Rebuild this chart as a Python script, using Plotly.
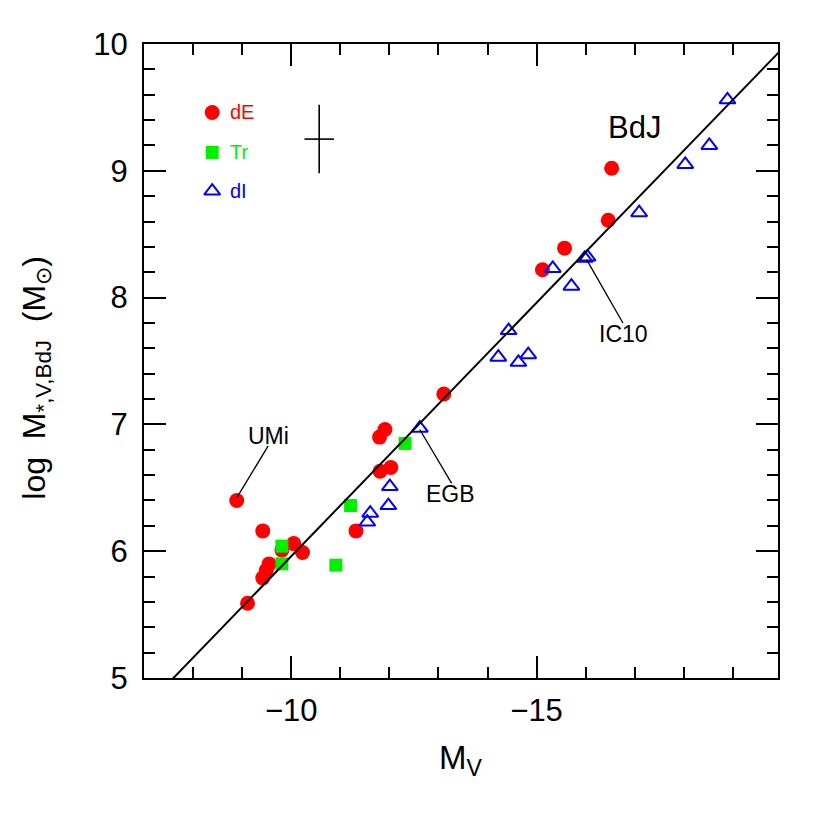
import plotly.graph_objects as go

# ---------------- data ----------------
dE_mv = [-8.89, -9.42, -10.05, -10.23, -9.81, -9.55, -9.49, -9.42, -9.11, -11.32,
         -11.81, -12.03, -11.80, -11.91, -13.11, -15.12, -15.57, -16.46, -16.53]
dE_logm = [6.40, 6.16, 6.06, 5.99, 6.01, 5.90, 5.85, 5.79, 5.59, 6.16,
           6.63, 6.66, 6.90, 6.96, 7.24, 8.22, 8.39, 8.61, 9.02]

tr_mv = [-9.81, -9.81, -10.91, -11.21, -12.32]
tr_logm = [6.04, 5.90, 5.89, 6.36, 6.85]

dI_mv = [-11.55, -11.61, -11.98, -12.01, -12.62, -14.22, -14.43, -14.63, -14.83,
         -15.33, -15.71, -15.98, -16.04, -17.09, -18.03, -18.52, -18.89]
dI_logm = [6.23, 6.30, 6.36, 6.51, 6.97, 7.53, 7.74, 7.49, 7.55,
           8.23, 8.09, 8.31, 8.32, 8.67, 9.05, 9.20, 9.56]

# fit: log M = slope * M_V + intercept
fit_slope = -0.4
fit_intercept = 1.96
fit_mv = [-7.0, -20.0]
fit_logm = [fit_slope * m + fit_intercept for m in fit_mv]

# typical error bar
err_mv, err_logm = [-10.57], [9.25]
err_dmv, err_dlogm = [0.30], [0.27]

# labelled galaxies: (label, point, text position)
labels = ["UMi", "EGB", "IC10"]
label_pt_mv = [-8.89, -12.62, -16.02]
label_pt_logm = [6.42, 6.96, 8.30]
label_end_mv = [-9.53, -13.27, -16.76]
label_end_logm = [6.83, 6.535, 7.80]
label_txt_mv = [-9.53, -13.25, -16.77]
label_txt_logm = [6.91, 6.45, 7.71]

legend_names = ["dE", "Tr", "dI"]

RED, GREEN, BLUE = "#ff0000", "#00f000", "#0000ff"
FONT = "Liberation Sans"

fig = go.Figure()

fig.add_trace(go.Scatter(x=dE_mv, y=dE_logm, mode="markers",
                         marker=dict(symbol="circle", size=15, color=RED, line=dict(width=0)),
                         showlegend=False))
fig.add_trace(go.Scatter(x=tr_mv, y=tr_logm, mode="markers",
                         marker=dict(symbol="square", size=13, color=GREEN, line=dict(width=0)),
                         showlegend=False))
fig.add_trace(go.Scatter(x=dI_mv, y=dI_logm, mode="markers",
                         marker=dict(symbol="triangle-up-open", size=14, color=BLUE,
                                     line=dict(width=2, color=BLUE)),
                         showlegend=False))
fig.add_trace(go.Scatter(x=fit_mv, y=fit_logm, mode="lines",
                         line=dict(color="black", width=2), showlegend=False))
fig.add_trace(go.Scatter(x=err_mv, y=err_logm, mode="markers",
                         marker=dict(size=0.1, color="black"),
                         error_x=dict(type="data", array=err_dmv, width=0, thickness=1.6, color="black"),
                         error_y=dict(type="data", array=err_dlogm, width=0, thickness=1.6, color="black"),
                         showlegend=False))

# label connector lines
for i, lab in enumerate(labels):
    fig.add_trace(go.Scatter(x=[label_pt_mv[i], label_end_mv[i]],
                             y=[label_pt_logm[i], label_end_logm[i]],
                             mode="lines", line=dict(color="black", width=1.3),
                             showlegend=False))

annotations = []
for i, lab in enumerate(labels):
    annotations.append(dict(x=label_txt_mv[i], y=label_txt_logm[i], xref="x", yref="y",
                            text=lab, showarrow=False, xanchor="center", yanchor="middle",
                            font=dict(family=FONT, size=23, color="black")))
annotations.append(dict(x=-17.0, y=9.34, xref="x", yref="y", text="BdJ", showarrow=False,
                        xanchor="center", yanchor="middle",
                        font=dict(family=FONT, size=31, color="black")))

# in-plot legend
leg_mv = -8.39
leg_txt_mv = -8.71
leg_logm = [9.46, 9.145, 8.84]
leg_symbols = ["circle", "square", "triangle-up-open"]
leg_sizes = [15, 13, 14]
for i in range(3):
    fig.add_trace(go.Scatter(x=[leg_mv], y=[leg_logm[i]], mode="markers",
                             marker=dict(symbol=leg_symbols[i], size=leg_sizes[i],
                                         color=[RED, GREEN, BLUE][i],
                                         line=dict(width=2 if i == 2 else 0, color=BLUE)),
                             showlegend=False))
    annotations.append(dict(x=leg_txt_mv, y=leg_logm[i], xref="x", yref="y",
                            text=legend_names[i], showarrow=False, xanchor="left",
                            yanchor="middle",
                            font=dict(family=FONT, size=20, color=[RED, GREEN, BLUE][i])))

# axis titles
annotations.append(dict(x=0.5, y=-0.13, xref="paper", yref="paper",
                        text="M<sub>V</sub>", showarrow=False, xanchor="center",
                        yanchor="middle", font=dict(family=FONT, size=33, color="black")))
annotations.append(dict(x=-0.17, y=0.474, xref="paper", yref="paper",
                        text="log  M<sub>*,V,BdJ</sub>  (M<sub>⊙</sub>)", showarrow=False,
                        textangle=-90, xanchor="center", yanchor="middle",
                        font=dict(family=FONT, size=32, color="black")))

axis_common = dict(showgrid=False, zeroline=False, showline=True, linecolor="black",
                   linewidth=2, mirror="ticks", ticks="inside", ticklen=22, tickwidth=2,
                   tickcolor="black",
                   tickfont=dict(family=FONT, size=31, color="black"))

# page body has an 8px default margin, so margins are offset by 8px
fig.update_layout(
    width=822, height=822,
    margin=dict(l=136, r=52, t=36, b=152),
    paper_bgcolor="white", plot_bgcolor="white",
    xaxis=dict(range=[-7.0, -19.92], tickvals=[-10, -15], ticktext=["\u221210", "\u221215"],
               minor=dict(dtick=1, tick0=0, ticks="inside", ticklen=11, tickwidth=2,
                          tickcolor="black", showgrid=False),
               ticklabelstandoff=4, **axis_common),
    yaxis=dict(range=[5, 10], dtick=1, tick0=0,
               minor=dict(dtick=0.2, tick0=0, ticks="inside", ticklen=11, tickwidth=2,
                          tickcolor="black", showgrid=False),
               ticklabelstandoff=8, **axis_common),
    annotations=annotations,
    showlegend=False,
)

fig.write_html("out.html")
